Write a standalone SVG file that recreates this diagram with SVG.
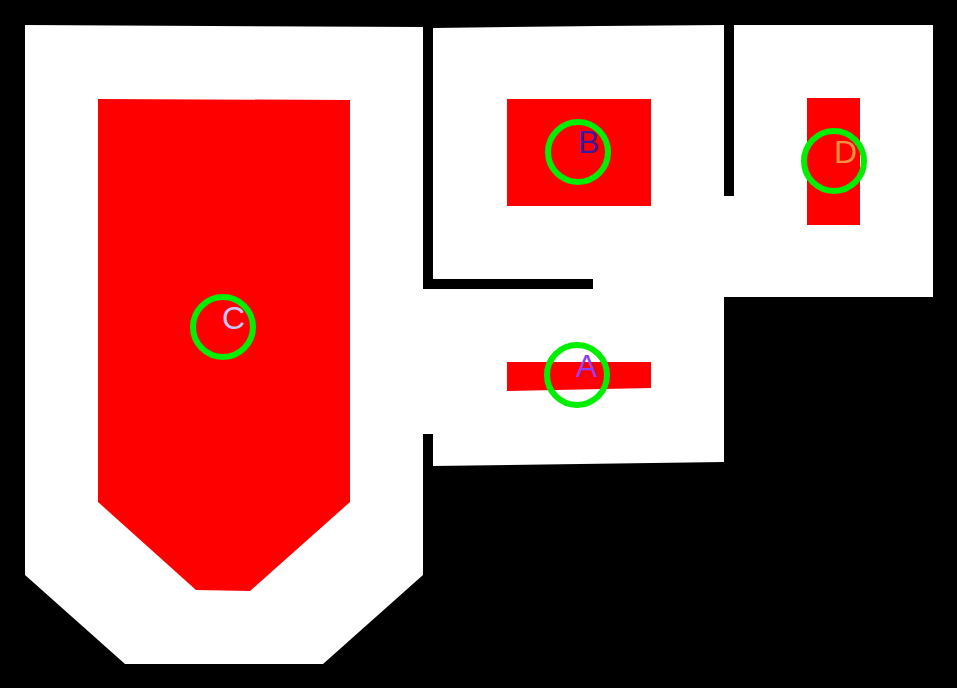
<svg xmlns="http://www.w3.org/2000/svg" width="957" height="688" viewBox="0 0 957 688">
<style>
.room{fill:#ffffff}
.wall{fill:#000000}
.zone{fill:#ff0000}
.ring{fill:none;stroke:#00ee00;stroke-width:6}
.lbl{font-family:"Liberation Sans",Arial,sans-serif;font-size:32px}
</style>
<rect x="0" y="0" width="957" height="688" fill="#000000"/>
<g id="rooms">
<polygon class="room" points="25,25 423,27 423,575 323,664 125,664 25,575"/>
<polygon class="room" points="433,28 600,26 724,25 724,290 433,290"/>
<rect class="room" x="724" y="25" width="209" height="272"/>
<polygon class="room" points="423,286 724,286 724,462 433,466 433,434 423,434"/>
<rect class="wall" x="423" y="27" width="10" height="262"/>
<rect class="wall" x="423" y="279" width="170" height="10"/>
<rect class="wall" x="724" y="25" width="10" height="171"/>
</g>
<g id="node-C">
<polygon class="zone" points="98,99 350,100 350,502 250,591 196,590 98,502"/>
<circle class="ring" cx="223" cy="327" r="30"/>
<text class="lbl" x="222" y="329" fill="#c4c8f8">C</text>
</g>
<g id="node-B">
<rect class="zone" x="507" y="99" width="144" height="107"/>
<circle class="ring" cx="578" cy="152" r="30"/>
<text class="lbl" x="578" y="153" fill="#3a1a9a">B</text>
</g>
<g id="node-D">
<rect class="zone" x="807" y="98" width="53" height="127"/>
<circle class="ring" cx="834" cy="161" r="30"/>
<text class="lbl" x="834" y="163" fill="#f09040">D</text>
</g>
<g id="node-A">
<polygon class="zone" points="507,362 651,362 651,388 507,391"/>
<circle class="ring" cx="577" cy="375" r="30"/>
<text class="lbl" x="576" y="377" fill="#9040f0">A</text>
</g>
<g id="connectors"></g>
</svg>
